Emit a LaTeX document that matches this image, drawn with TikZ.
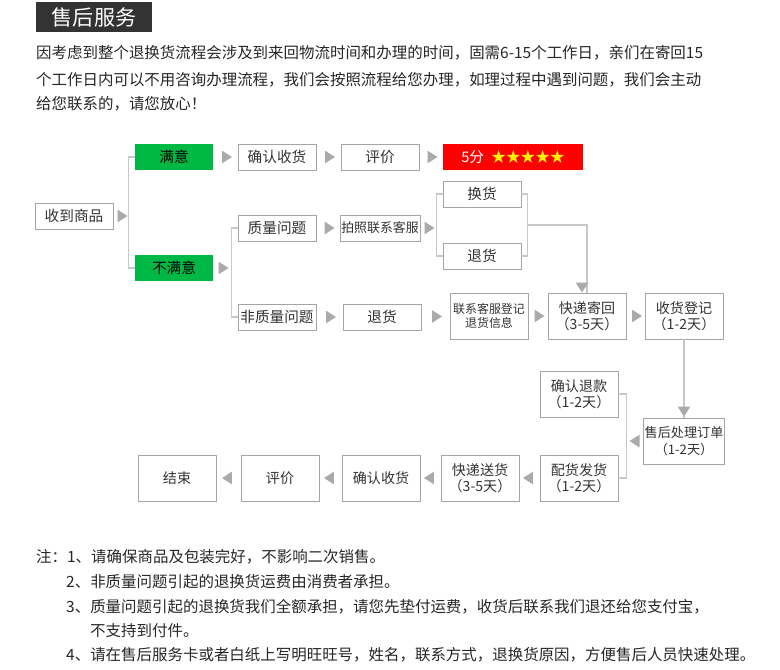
\documentclass[tikz,border=0pt]{standalone}
\usepackage{fontspec}
\setmainfont{Noto Sans CJK SC}
\usetikzlibrary{shapes.geometric}
\definecolor{boxgray}{HTML}{A5A5A5}
\definecolor{linegray}{HTML}{C8C8C8}
\definecolor{trigray}{HTML}{AAAAAA}
\definecolor{okgreen}{HTML}{00B945}
\definecolor{titlebg}{HTML}{333333}
\tikzset{
  stepbox/.style={draw=boxgray,fill=white,minimum width=2.34cm,minimum height=0.78cm,inner sep=1pt,font=\fontsize{12.5}{14}\selectfont,text=black!80},
  tallbox/.style={stepbox,minimum height=1.38cm,align=center,font=\fontsize{12}{14}\selectfont},
  greenbox/.style={stepbox,draw=none,fill=okgreen,text=black},
  tri/.style={isosceles triangle,isosceles triangle apex angle=65,fill=trigray,inner sep=0pt,minimum height=0.3cm,minimum width=0.36cm},
  tril/.style={tri,shape border rotate=180},
  link/.style={draw=linegray,line width=1.2pt},
  note/.style={anchor=west,inner sep=0pt,font=\fontsize{13.2}{16}\selectfont,text=black!85}
}
\begin{document}
\begin{tikzpicture}[x=0.03cm,y=-0.03cm]
\useasboundingbox (0,0) rectangle (780,670);
% title and intro
\node[fill=titlebg,text=white,minimum width=3.48cm,minimum height=0.9cm,font=\fontsize{18}{20}\selectfont] (title) at (94,17) {售后服务};
\node[note] (p1) at (36,53) {因考虑到整个退换货流程会涉及到来回物流时间和办理的时间，固需6-15个工作日，亲们在寄回15};
\node[note] (p2) at (36,80) {个工作日内可以不用咨询办理流程，我们会按照流程给您办理，如理过程中遇到问题，我们会主动};
\node[note] (p3) at (36,104) {给您联系的，请您放心！};
% first rows
\node[stepbox] (receive) at (74,216) {收到商品};
\node[greenbox] (happy) at (174,157) {满意};
\node[greenbox] (unhappy) at (174,268) {不满意};
\node[stepbox] (confirm1) at (277,157) {确认收货};
\node[stepbox] (rate1) at (380,157) {评价};
\node[fill=red,minimum width=4.2cm,minimum height=0.78cm,inner sep=0pt,font=\fontsize{12.5}{14}\selectfont,text=white] (stars) at (513,157) {5分\hspace{0.5em}\textcolor{yellow}{★★★★★}};
\node[stepbox] (quality) at (277,228) {质量问题};
\node[stepbox] (nonquality) at (277,317) {非质量问题};
\node[stepbox,font=\fontsize{11}{13}\selectfont] (photo) at (380,228) {拍照联系客服};
\node[stepbox] (exchange) at (482,194) {换货};
\node[stepbox] (refund1) at (482,256) {退货};
\node[stepbox] (refund2) at (382,317) {退货};
\node[tallbox,font=\fontsize{10.2}{12.5}\selectfont] (contact) at (489,316) {联系客服登记\\退货信息};
\node[tallbox] (sendback) at (587,316) {快递寄回\\（3-5天）};
\node[tallbox] (register) at (684,316) {收货登记\\（1-2天）};
\node[tallbox,font=\fontsize{11.2}{14}\selectfont] (handle) at (684,441) {售后处理订单\\（1-2天）};
\node[tallbox] (refundok) at (579,394) {确认退款\\（1-2天）};
\node[tallbox] (ship) at (579,478) {配货发货\\（1-2天）};
\node[tallbox] (deliver) at (480,478) {快递送货\\（3-5天）};
\node[tallbox] (confirm2) at (381,478) {确认收货};
\node[tallbox] (rate2) at (280,478) {评价};
\node[tallbox] (done) at (177,478) {结束};
% brackets
\draw[link] (happy.west) -- ++(-6,0) |- (unhappy.west);
\draw[link] (quality.west) -- ++(-6,0) |- (nonquality.west);
\draw[link] (exchange.west) -- ++(-6,0) |- (refund1.west);
\draw[link] (exchange.east) -- ++(6,0) |- (refund1.east);
\coordinate (merge) at (527,225);
\draw[link] (merge) -| (sendback.north);
\draw[link] (register.south) -- (handle.north);
\draw[link] (refundok.east) -- ++(8,0) |- (ship.east);
% triangles
\node[tri] at (121,216) {};
\node[tri] at (222,268) {};
\node[tri] at (428,228) {};
\foreach \a/\b in {confirm1/rate1,rate1/stars,quality/photo,nonquality/refund2,refund2/contact,contact/sendback,sendback/register}
  \path (\a.east) -- node[tri]{} (\b.west);
\path (happy.east) -- node[tri]{} (confirm1.west);
\foreach \a/\b in {ship/deliver,deliver/confirm2,confirm2/rate2,rate2/done}
  \path (\a.west) -- node[tril]{} (\b.east);
\node[tril] at (636,441) {};
\node[tri,shape border rotate=-90] at (582,286) {};
\node[tri,shape border rotate=-90] at (684,410) {};
% notes
\node[note] (n1) at (36,557) {注：1、请确保商品及包装完好，不影响二次销售。};
\node[note] (n2) at (66,582) {2、非质量问题引起的退换货运费由消费者承担。};
\node[note] (n3) at (66,607) {3、质量问题引起的退换货我们全额承担，请您先垫付运费，收货后联系我们退还给您支付宝，};
\node[note] (n4) at (90,631) {不支持到付件。};
\node[note] (n5) at (66,655) {4、请在售后服务卡或者白纸上写明旺旺号，姓名，联系方式，退换货原因，方便售后人员快速处理。};
\end{tikzpicture}
\end{document}
